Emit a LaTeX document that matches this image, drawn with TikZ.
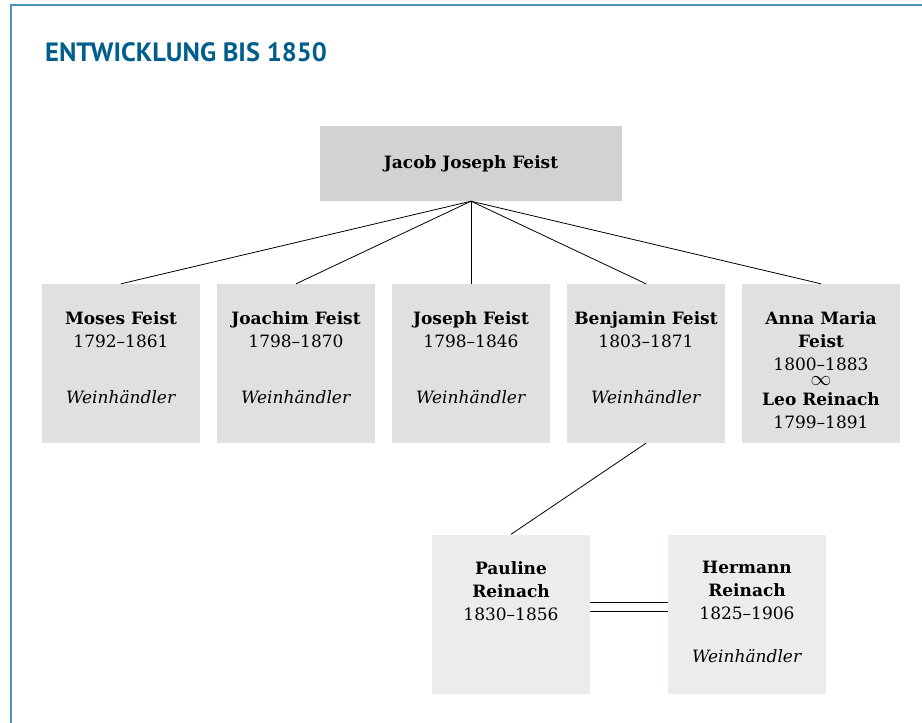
\documentclass[tikz,border=0pt]{standalone}
\usepackage{fontspec}
\setmainfont{DejaVu Serif}
\newfontfamily\titlefont{PT Sans}
\usetikzlibrary{positioning}
\definecolor{titleblue}{RGB}{0,94,140}
\definecolor{frameblue}{RGB}{74,146,186}
\definecolor{rootgray}{RGB}{209,210,212}
\definecolor{rowgray}{RGB}{223,224,225}
\definecolor{kidgray}{RGB}{235,236,236}

\begin{document}
\begin{tikzpicture}[x=1pt,y=-1pt,
  box/.style={minimum width=158pt,minimum height=159pt,inner sep=0pt,fill=rowgray},
  kidbox/.style={box,fill=kidgray},
  rootbox/.style={minimum width=302pt,minimum height=75pt,inner sep=0pt,fill=rootgray,
    font=\fontsize{17}{23}\selectfont\bfseries},
  txt/.style={align=center,inner sep=0pt,font=\fontsize{17}{23}\selectfont},
  link/.style={line width=0.8pt}]
\useasboundingbox (0,0) rectangle (922,723);
% frame and title
\draw[frameblue,line width=1.6pt] (11,723) -- (11,5) -- (922,5);
\node[anchor=base west,inner sep=0pt,text=titleblue,
  font=\titlefont\fontsize{26.5}{30}\selectfont\bfseries] (title) at (45,61) {ENTWICKLUNG BIS 1850};

% first generation
\node[rootbox] (jacob) at (471,163.5) {Jacob Joseph Feist};

% children
\node[box] (moses) at (121,363.5) {};
\node[box] (joachim) at (296,363.5) {};
\node[box] (joseph) at (471,363.5) {};
\node[box] (benjamin) at (646,363.5) {};
\node[box] (anna) at (821,363.5) {};

\node[txt,below=28pt of moses.north] (mosestxt)
  {\textbf{Moses Feist}\\1792--1861\\[33pt]\textit{Weinhändler}};
\node[txt,below=28pt of joachim.north] (joachimtxt)
  {\textbf{Joachim Feist}\\1798--1870\\[33pt]\textit{Weinhändler}};
\node[txt,below=28pt of joseph.north] (josephtxt)
  {\textbf{Joseph Feist}\\1798--1846\\[33pt]\textit{Weinhändler}};
\node[txt,below=28pt of benjamin.north] (benjamintxt)
  {\textbf{Benjamin Feist}\\1803--1871\\[33pt]\textit{Weinhändler}};
\node[txt,below=28pt of anna.north] (annatxt)
  {\textbf{Anna Maria}\\\textbf{Feist}\\1800--1883\\[-8pt]{\fontsize{21}{21}\selectfont$\infty$}\\[-3pt]\textbf{Leo Reinach}\\1799--1891};

% grandchildren
\node[kidbox] (pauline) at (511,614) {};
\node[kidbox] (hermann) at (747,614) {};

\node[txt,below=27pt of pauline.north] (paulinetxt)
  {\textbf{Pauline}\\\textbf{Reinach}\\1830--1856};
\node[txt,below=27pt of hermann.north] (hermanntxt)
  {\textbf{Hermann}\\\textbf{Reinach}\\1825--1906\\[20pt]\textit{Weinhändler}};

% lines
\foreach \kid in {moses,joachim,joseph,benjamin,anna}
  \draw[link] (jacob.south) -- (\kid.north);
\draw[link] (benjamin.south) -- (pauline.north);
\draw[link] ([yshift=12pt]pauline.east) -- ([yshift=12pt]hermann.west);
\draw[link] ([yshift=3pt]pauline.east) -- ([yshift=3pt]hermann.west);
\end{tikzpicture}
\end{document}
